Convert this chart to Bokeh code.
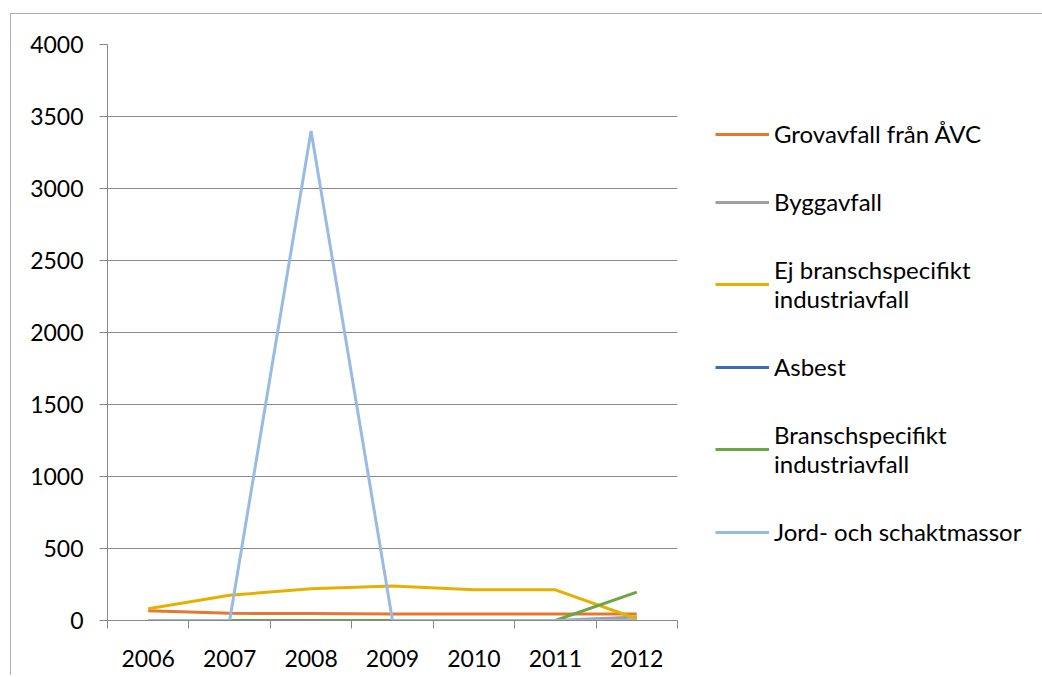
from bokeh.plotting import figure
from bokeh.models import FixedTicker, Legend, LegendItem, Range1d
from bokeh.embed import file_html
from bokeh.resources import INLINE

years = ["2006", "2007", "2008", "2009", "2010", "2011", "2012"]
grovavfall = [68, 50, 48, 45, 45, 45, 45]
byggavfall = [0, 0, 0, 0, 0, 0, 25]
ej_bransch = [82, 175, 220, 240, 213, 213, 12]
asbest = [0, 0, 0, 0, 0, 0, 0]
bransch = [0, 0, 0, 0, 0, 0, 197]
jord = [0, 0, 3400, 0, 0, 0, 0]
y_ticks = [0, 500, 1000, 1500, 2000, 2500, 3000, 3500, 4000]

series = [
    ("Grovavfall från ÅVC", grovavfall, "#E3782F"),
    ("Byggavfall", byggavfall, "#A0A0A0"),
    ("Ej branschspecifikt\nindustriavfall", ej_bransch, "#E6B000"),
    ("Asbest", asbest, "#3F6CB8"),
    ("Branschspecifikt\nindustriavfall", bransch, "#6AA546"),
    ("Jord- och schaktmassor", jord, "#98BAE3"),
]

xs = [i + 0.5 for i in range(len(years))]
FONT = "Lato"
FS = "23px"

p = figure(frame_width=570, frame_height=576, output_backend="svg", toolbar_location=None,
           x_range=Range1d(0, len(years)), y_range=Range1d(0, 4000),
           min_border_left=96, min_border_top=30, min_border_right=20,
           min_border_bottom=55)
p.outline_line_color = None
p.styles = {"border-left": "1px solid #b0b0b0", "border-top": "1px solid #b0b0b0",
            "margin-left": "10px", "margin-top": "13px"}

items = []
for name, vals, col in series:
    r = p.line(xs, vals, line_color=col, line_width=3)
    items.append(LegendItem(label=name, renderers=[r]))

p.xgrid.visible = False
p.ygrid.grid_line_color = "#888888"
p.ygrid.grid_line_width = 1
p.ygrid.ticker = FixedTicker(ticks=y_ticks)

xa = p.xaxis[0]
xa.ticker = FixedTicker(ticks=xs, minor_ticks=list(range(len(years) + 1)))
xa.major_label_overrides = {x: y for x, y in zip(xs, years)}
xa.major_tick_out = 0
xa.major_tick_in = 0
xa.minor_tick_out = 8
xa.minor_tick_in = 0
xa.minor_tick_line_color = "#888888"
xa.axis_line_color = "#888888"
xa.major_label_standoff = 21
xa.major_label_text_font = FONT
xa.major_label_text_font_size = FS
xa.major_label_text_color = "#000000"

ya = p.yaxis[0]
ya.ticker = FixedTicker(ticks=y_ticks)
ya.minor_tick_line_color = None
ya.major_tick_out = 8
ya.major_tick_in = 0
ya.major_tick_line_color = "#888888"
ya.axis_line_color = "#888888"
ya.major_label_standoff = 16
ya.major_label_text_font = FONT
ya.major_label_text_font_size = FS
ya.major_label_text_color = "#000000"

legend = Legend(items=items, location=(38, 74), orientation="vertical")
legend.glyph_width = 54
legend.glyph_height = 22
legend.label_standoff = 5
legend.spacing = 39
legend.padding = 3
legend.margin = 0
legend.border_line_color = None
legend.background_fill_alpha = 0
legend.label_text_font = FONT
legend.label_text_font_size = "24px"
legend.label_text_color = "#000000"
legend.label_height = 24
p.add_layout(legend, "right")

open("out.html", "w").write(file_html(p, INLINE))
